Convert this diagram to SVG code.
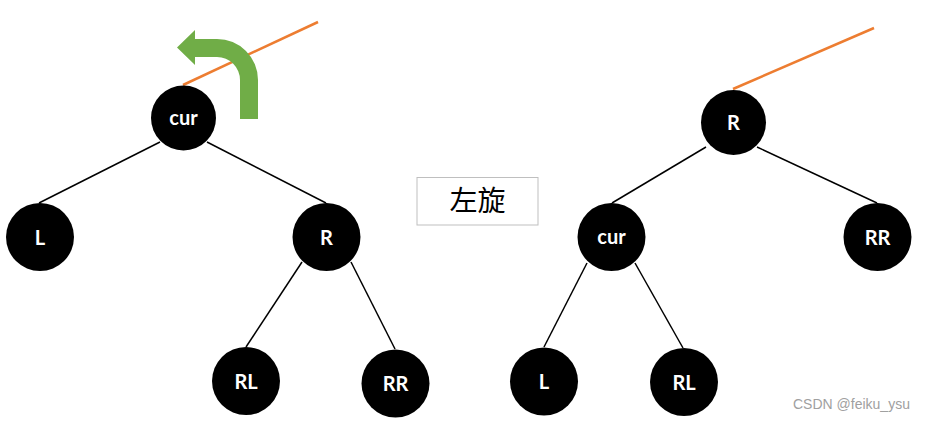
<svg xmlns="http://www.w3.org/2000/svg" width="925" height="422" viewBox="0 0 925 422">
<style>
.n{fill:#000}
.t{fill:#fff;font-family:Lato,"Liberation Sans",sans-serif;font-weight:bold;font-size:20px;text-anchor:middle}
.e{stroke:#000;stroke-width:1.5;fill:none}
.o{stroke:#ED7D31;stroke-width:2.5;fill:none}
</style>
<rect width="925" height="422" fill="#fff"/>
<g id="connectors">
<line class="e" x1="160" y1="142" x2="39" y2="203"/>
<line class="e" x1="207" y1="142" x2="326" y2="203"/>
<line class="e" x1="302" y1="262" x2="246" y2="347"/>
<line class="e" x1="351" y1="262" x2="395" y2="349"/>
<line class="e" x1="706" y1="147" x2="612" y2="203"/>
<line class="e" x1="757" y1="147" x2="877" y2="203"/>
<line class="e" x1="587" y1="263" x2="544" y2="347"/>
<line class="e" x1="635" y1="263" x2="683" y2="348"/>
<line class="o" x1="183" y1="85" x2="318" y2="22"/>
<line class="o" x1="733" y1="89" x2="874" y2="28"/>
</g>
<g id="rotate-arrow">
<path d="M240 119 L240 80 A23 23 0 0 0 217 57 L195 57 L195 65 L177 47.5 L195 30 L195 39 L217 39 A41 41 0 0 1 258 80 L258 119 Z" fill="#70AD47"/>
</g>
<g id="node-cur-left"><circle class="n" cx="183.5" cy="118" r="32.5"/><text class="t" x="183.5" y="125">cur</text></g>
<g id="node-L-left"><circle class="n" cx="40" cy="237" r="34"/><text class="t" x="40" y="244.5">L</text></g>
<g id="node-R-left"><circle class="n" cx="326.5" cy="237" r="34"/><text class="t" x="326.5" y="244.5">R</text></g>
<g id="node-RL-left"><circle class="n" cx="246" cy="381" r="34"/><text class="t" x="246" y="388.5">RL</text></g>
<g id="node-RR-left"><circle class="n" cx="395.5" cy="383.5" r="34"/><text class="t" x="395.5" y="391">RR</text></g>
<g id="label-box"><rect x="417" y="177.5" width="121" height="47.5" fill="#fff" stroke="#BFBFBF" stroke-width="1"/><text x="477.5" y="211" font-family="'Noto Sans CJK SC',sans-serif" font-size="28" text-anchor="middle" fill="#000">左旋</text></g>
<g id="node-R-right"><circle class="n" cx="733.5" cy="122.5" r="32.5"/><text class="t" x="733.5" y="130">R</text></g>
<g id="node-cur-right"><circle class="n" cx="611.5" cy="237" r="34"/><text class="t" x="611.5" y="244">cur</text></g>
<g id="node-RR-right"><circle class="n" cx="877.5" cy="237" r="34"/><text class="t" x="877.5" y="244.5">RR</text></g>
<g id="node-L-right"><circle class="n" cx="544" cy="381.5" r="34"/><text class="t" x="544" y="389">L</text></g>
<g id="node-RL-right"><circle class="n" cx="684" cy="382" r="34"/><text class="t" x="684" y="389.5">RL</text></g>
<text x="793" y="409" font-family="'Liberation Sans',Arial,sans-serif" font-size="14" fill="#A0A0A0">CSDN @feiku_ysu</text>
</svg>
